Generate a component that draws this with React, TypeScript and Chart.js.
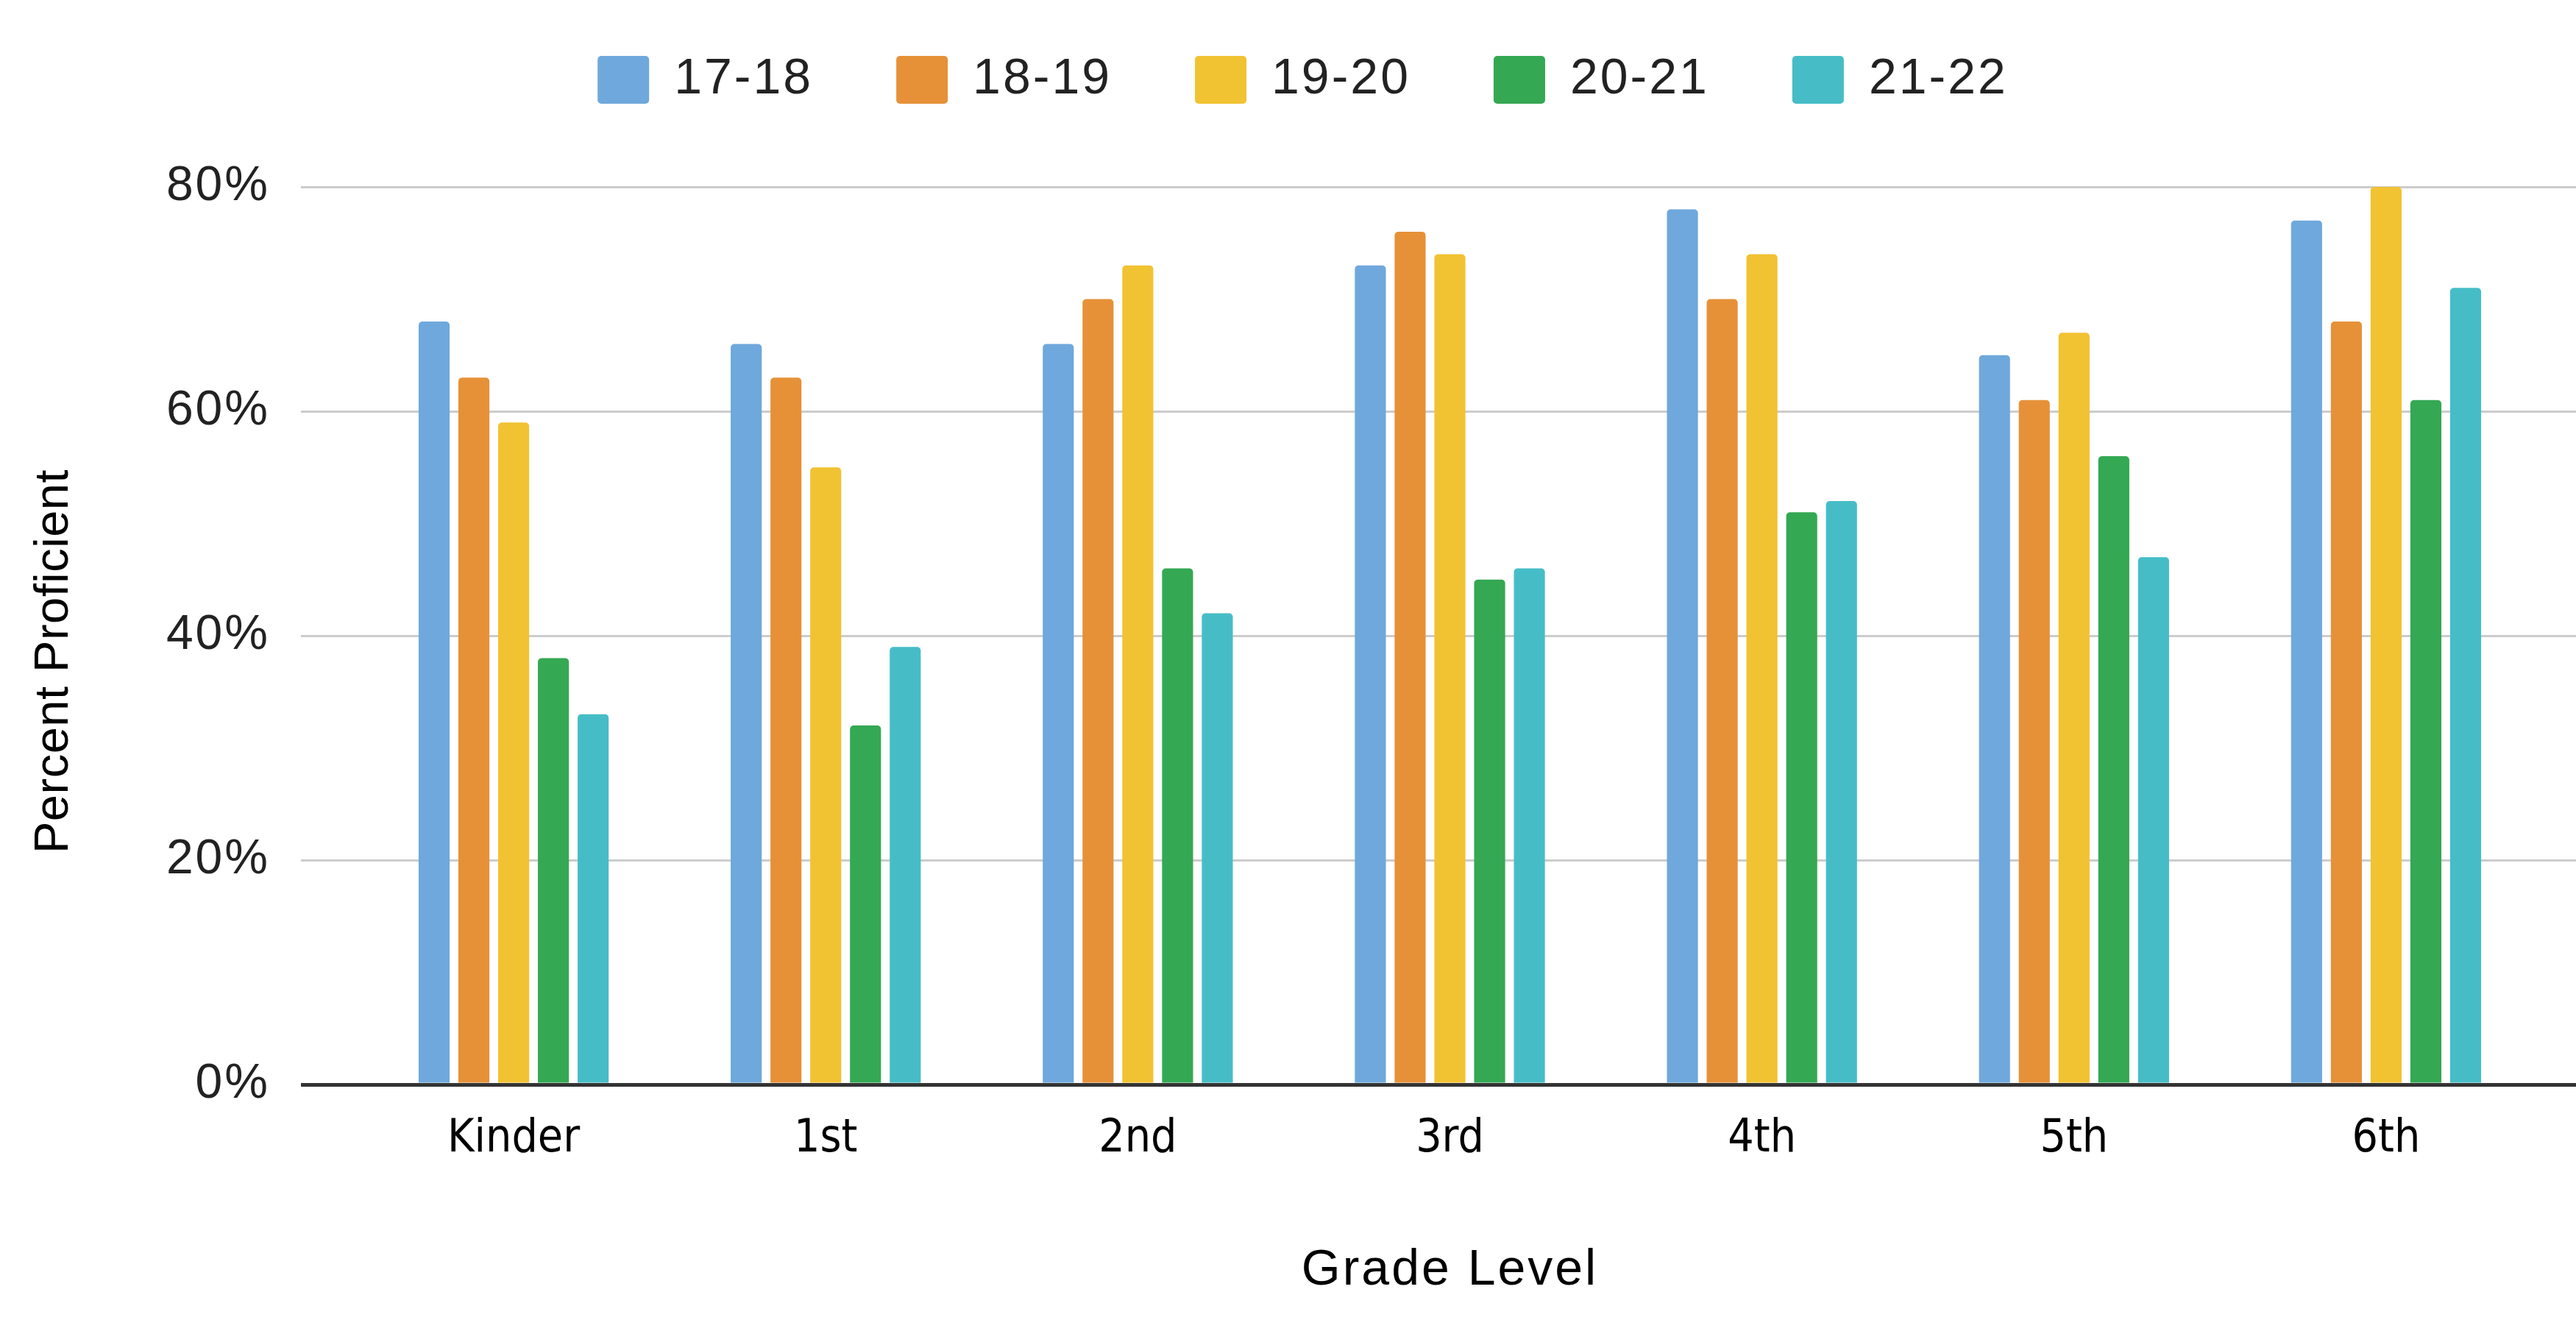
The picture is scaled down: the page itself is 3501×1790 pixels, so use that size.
import React, { useEffect, useRef } from 'react';
import { Chart, registerables } from 'chart.js';

Chart.register(...registerables);

const categories = ['Kinder', '1st', '2nd', '3rd', '4th', '5th', '6th'];
const seriesLabels = ['17-18', '18-19', '19-20', '20-21', '21-22'];
const values1718 = [68, 66, 66, 73, 78, 65, 77];
const values1819 = [63, 63, 70, 76, 70, 61, 68];
const values1920 = [59, 55, 73, 74, 74, 67, 80];
const values2021 = [38, 32, 46, 45, 51, 56, 61];
const values2122 = [33, 39, 42, 46, 52, 47, 71];
const seriesColors = ['#6fa8dc', '#e69138', '#f1c232', '#34a853', '#46bdc6'];
const yMin = 0;
const yMax = 80;
const yStep = 20;
const yTitle = 'Percent Proficient';
const xTitle = 'Grade Level';

const allSeries = [values1718, values1819, values1920, values2021, values2122];

const SANS = "'Liberation Sans', Arial, sans-serif";
const NARROW = "'Liberation Sans Narrow', 'Arial Narrow', 'DejaVu Sans Condensed', sans-serif";
const SPACING = '3px';

const gridColor = (ctx: any) => (ctx.tick && ctx.tick.value === 0 ? '#333333' : '#cccccc');
const gridWidth = (ctx: any) => (ctx.tick && ctx.tick.value === 0 ? 5 : 3);

const textTweaks = {
  id: 'textTweaks',
  beforeInit(chart: any) {
    chart.ctx.letterSpacing = SPACING;
  },
  beforeUpdate(chart: any) {
    chart.ctx.letterSpacing = SPACING;
  },
  beforeDraw(chart: any) {
    chart.ctx.letterSpacing = SPACING;
  },
  afterLayout(chart: any) {
    const xs = chart.scales.x;
    if (xs && !xs.__wrapped) {
      const orig = xs.drawLabels;
      xs.drawLabels = function (area: any) {
        const c = this.ctx;
        const prev = c.letterSpacing;
        c.letterSpacing = '0px';
        orig.call(this, area);
        c.letterSpacing = prev;
      };
      xs.__wrapped = true;
    }
    const ys = chart.scales.y;
    if (ys && !ys.__wrapped) {
      const origT = ys.drawTitle;
      ys.drawTitle = function () {
        const c = this.ctx;
        c.save();
        c.letterSpacing = '0.5px';
        c.translate(0, 35);
        origT.call(this);
        c.restore();
      };
      ys.__wrapped = true;
    }
  },
};

export default function App() {
  const canvasRef = useRef<HTMLCanvasElement | null>(null);

  useEffect(() => {
    if (!canvasRef.current) return;
    const chart = new Chart(canvasRef.current, {
      type: 'bar',
      plugins: [textTweaks],
      data: {
        labels: categories,
        datasets: allSeries.map((vals, i) => ({
          label: seriesLabels[i],
          data: vals,
          backgroundColor: seriesColors[i],
          borderWidth: 0,
          borderRadius: { topLeft: 5, topRight: 5, bottomLeft: 0, bottomRight: 0 },
          borderSkipped: false,
          categoryPercentage: 0.637,
          barPercentage: 0.78,
        })),
      },
      options: {
        animation: false,
        responsive: true,
        maintainAspectRatio: false,
        layout: { padding: { top: -38.5, left: 0, right: -40, bottom: 0 } },
        plugins: {
          legend: {
            position: 'top',
            align: 'center',
            labels: {
              boxWidth: 70,
              boxHeight: 65,
              padding: 113,
              color: '#222222',
              font: { family: SANS, size: 68 },
              useBorderRadius: true,
              borderRadius: 5,
            },
          },
          title: {
            display: true,
            text: '',
            weight: 500,
            font: { size: 10 },
            padding: { top: 0, bottom: 89.5 },
          } as any,
          tooltip: { enabled: false },
        },
        scales: {
          x: {
            type: 'category',
            grid: { display: false, drawTicks: false },
            border: { display: false },
            ticks: {
              color: '#000000',
              font: { family: NARROW, size: 62 },
              padding: 38,
              maxRotation: 0,
              autoSkip: false,
            },
            title: {
              display: true,
              text: xTitle,
              color: '#000000',
              font: { family: SANS, size: 68 },
              padding: { top: 0, bottom: 22 },
            },
            afterFit: (scale: any) => {
              scale.height = 316;
            },
          },
          y: {
            type: 'linear',
            position: 'left',
            min: yMin,
            max: yMax,
            grid: {
              color: gridColor,
              lineWidth: gridWidth,
              drawTicks: true,
              tickLength: 77,
              tickColor: gridColor,
              tickWidth: gridWidth,
            },
            border: { display: false },
            ticks: {
              stepSize: yStep,
              padding: 42,
              color: '#222222',
              font: { family: SANS, size: 66 },
              callback: (v: any) => `${v}%`,
            },
            title: {
              display: true,
              text: yTitle,
              color: '#000000',
              font: { family: SANS, size: 65 },
              padding: { top: 35, bottom: 0 },
            },
            afterFit: (scale: any) => {
              scale.width = 486;
            },
          },
          yRight: {
            type: 'linear',
            position: 'right',
            min: yMin,
            max: yMax,
            grid: {
              color: gridColor,
              lineWidth: gridWidth,
              drawOnChartArea: false,
              drawTicks: true,
              tickLength: 46,
              tickColor: gridColor,
              tickWidth: gridWidth,
            },
            border: { display: false },
            ticks: { stepSize: yStep, display: false },
            afterFit: (scale: any) => {
              scale.width = 86;
            },
          },
        },
      },
    });
    return () => chart.destroy();
  }, []);

  return (
    <div style={{ position: 'fixed', left: 0, top: 0, width: '3501px', height: '1790px', background: '#ffffff' }}>
      <canvas ref={canvasRef} />
    </div>
  );
}
